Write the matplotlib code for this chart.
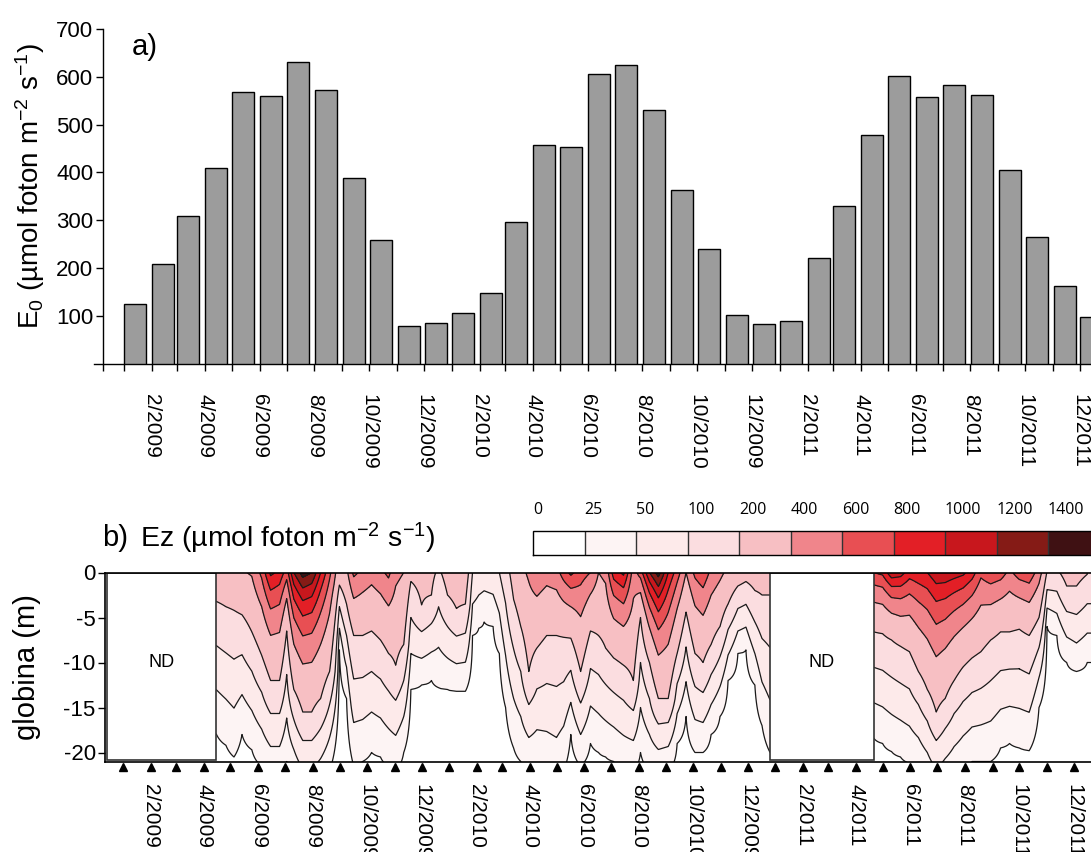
import matplotlib
matplotlib.use("Agg")
import matplotlib.pyplot as plt
import matplotlib.dates as mdates
from matplotlib.patches import Rectangle
import numpy as np
import pandas as pd

plt.rcParams.update({
    "font.family": ["Liberation Sans", "DejaVu Sans"],
    "mathtext.fontset": "custom",
    "mathtext.rm": "Liberation Sans",
    "mathtext.it": "Liberation Sans:italic",
    "mathtext.bf": "Liberation Sans:bold",
    "axes.unicode_minus": False,
})

# ── monthly surface irradiance (panel a) ─────────────────────
MONTHS = pd.date_range("2009-01-01", "2011-12-01", freq="MS")
E0_MONTHLY = [125, 208, 310, 409, 568, 560, 630, 573, 389, 259, 79, 86,
              107, 149, 296, 458, 454, 606, 624, 531, 363, 240, 102, 83,
              89, 221, 329, 479, 601, 558, 583, 562, 405, 266, 163, 98]

LABEL_MONTHS = pd.date_range("2009-02-01", "2011-12-01", freq="2MS")
DATE_LABELS = ["2/2009", "4/2009", "6/2009", "8/2009", "10/2009", "12/2009",
               "2/2010", "4/2010", "6/2010", "8/2010", "10/2010", "12/2009",
               "2/2011", "4/2011", "6/2011", "8/2011", "10/2011", "12/2011"]

# ── underwater light profiles (panel b) ──────────────────────
# per sampling date: light at the surface, depth (m) of the 200 isoline
# (nan where the surface is already below 200) and depth of the 25 isoline
DATES_1 = ["2009-04-15", "2009-04-26", "2009-05-05", "2009-05-14", "2009-05-25",
           "2009-06-05", "2009-06-15", "2009-06-25", "2009-07-03", "2009-07-11",
           "2009-07-21", "2009-07-31", "2009-08-10", "2009-08-20", "2009-08-31",
           "2009-09-08", "2009-09-16", "2009-09-26", "2009-10-06", "2009-10-16",
           "2009-10-25", "2009-11-02", "2009-11-11", "2009-11-19", "2009-12-01",
           "2009-12-12", "2009-12-20", "2009-12-30", "2010-01-09", "2010-01-19",
           "2010-01-27", "2010-02-03", "2010-02-09", "2010-02-19", "2010-02-26",
           "2010-03-05", "2010-03-14", "2010-03-22", "2010-03-31", "2010-04-09",
           "2010-04-20", "2010-05-01", "2010-05-09", "2010-05-17", "2010-05-28",
           "2010-06-08", "2010-06-17", "2010-06-25", "2010-07-04", "2010-07-15",
           "2010-07-26", "2010-08-03", "2010-08-13", "2010-08-23", "2010-09-03",
           "2010-09-13", "2010-09-23", "2010-10-03", "2010-10-12", "2010-10-21",
           "2010-10-31", "2010-11-09", "2010-11-20", "2010-11-29", "2010-12-09",
           "2010-12-17", "2010-12-26"]
SURF_1 = [300, 310, 330, 380, 420, 650, 1050, 950, 700, 1200,
          1500, 1400, 1000, 650, 250, 350, 650, 550, 480, 550,
          650, 450, 400, 220, 250, 230, 180, 250, 320, 280,
          100, 80, 75, 80, 100, 150, 250, 350, 430, 550,
          480, 520, 700, 850, 700, 600, 400, 450, 900, 1050,
          500, 700, 1200, 1500, 1000, 700, 400, 650, 750, 550,
          450, 350, 300, 250, 280, 280, 280]
Z200_1 = [3.2, 3.8, 4.2, 4.7, 6.6, 9.2, 12.0, 12.0, 6.5, 13.0,
          15.5, 15.5, 14.0, 11.0, 1.4, 3.5, 7.0, 7.0, 6.5, 7.5,
          9.0, 10.3, 8.0, 1.0, 3.6, 2.5, np.nan, 2.5, 4.0, 3.5,
          np.nan, np.nan, np.nan, np.nan, np.nan, np.nan, 3.0, 6.0, 11.0, 8.4,
          7.0, 7.0, 7.2, 7.3, 11.0, 6.5, 7.0, 8.4, 9.5, 10.3,
          12.0, 5.0, 10.0, 14.0, 14.0, 9.0, 4.4, 9.0, 10.0, 8.0,
          6.0, 3.5, 1.5, 1.0, 2.0, 2.5, 2.5]
Z25_1 = [17.9, 19.2, 20.5, 18.0, 19.7, 21.5, 23.0, 23.0, 21.0, 23.0,
         25.0, 25.0, 24.0, 22.0, 8.6, 14.0, 21.5, 21.0, 20.0, 20.5,
         21.5, 22.0, 20.0, 13.0, 12.5, 12.0, 12.8, 13.0, 13.2, 13.2,
         7.0, 6.2, 5.5, 6.0, 9.0, 15.0, 19.5, 21.0, 22.0, 22.0,
         23.0, 24.0, 22.0, 18.0, 21.5, 19.0, 20.0, 20.5, 21.0, 22.0,
         22.0, 20.0, 22.0, 22.5, 22.0, 19.0, 16.0, 20.0, 20.0, 18.0,
         16.0, 12.0, 9.0, 8.6, 12.5, 17.0, 20.0]

DATES_2 = ["2011-04-21", "2011-05-01", "2011-05-11", "2011-05-21", "2011-05-31",
           "2011-06-10", "2011-06-20", "2011-06-30", "2011-07-10", "2011-07-20",
           "2011-07-30", "2011-08-09", "2011-08-19", "2011-08-30", "2011-09-10",
           "2011-09-20", "2011-10-01", "2011-10-12", "2011-10-23", "2011-11-01",
           "2011-11-12", "2011-11-23", "2011-12-04", "2011-12-16", "2011-12-31"]
SURF_2 = [800, 850, 1150, 1100, 900, 950, 1000, 1150, 1150, 1100,
          1050, 900, 650, 750, 700, 550, 700, 750, 500, 190,
          180, 250, 250, 200, 200]
Z200_2 = [6.6, 6.8, 7.5, 8.2, 8.8, 11.0, 13.0, 15.5, 14.0, 12.0,
          10.5, 9.5, 8.8, 7.5, 6.6, 6.6, 6.3, 7.0, 5.0, np.nan,
          np.nan, 1.5, 1.5, 0.2, 0.2]
Z25_2 = [18.4, 19.0, 19.9, 20.5, 21.2, 22.0, 23.5, 25.0, 24.0, 23.0,
         22.0, 21.0, 21.0, 21.0, 19.5, 19.0, 19.5, 19.8, 15.0, 6.0,
         7.0, 10.0, 11.0, 10.0, 10.0]

ND_PERIODS = [("2008-12-14", "2009-04-15"), ("2010-12-26", "2011-04-21")]

LEVELS = [0, 25, 50, 100, 200, 400, 600, 800, 1000, 1200, 1400, 100000]
COLORS = ["#ffffff", "#fdf4f4", "#fdeaea", "#fbdde0", "#f7bfc3", "#f0858b",
          "#e84f53", "#e31f26", "#c8171d", "#851b16", "#3f1113"]

BAR_GREY = "#9c9c9c"
LINE_DARK = "#1a1a1a"
W, H = 1091, 852


def px_box(left, top, right, bottom):
    """Axes rectangle from pixel edges (origin top-left)."""
    return [left / W, 1 - bottom / H, (right - left) / W, (bottom - top) / H]


def light_field(depths, surface, z200, z25):
    """Piecewise log-linear profile through the read isoline depths."""
    cols = []
    for es, a, b in zip(surface, z200, z25):
        kd, ke = [0.0], [np.log(es)]
        if not np.isnan(a):
            kd.append(a)
            ke.append(np.log(200))
        kd += [b, 60.0]
        ke += [np.log(25), 0.0]
        cols.append(np.exp(np.interp(depths, kd, ke)))
    return np.array(cols).T


def dnum(values):
    return mdates.date2num(pd.to_datetime(values).to_pydatetime())


fig = plt.figure(figsize=(W / 100, H / 100), dpi=100)
day0 = dnum(["2009-01-01"])[0]
month_x = dnum(MONTHS)
label_x = dnum(LABEL_MONTHS)

# ── panel a: monthly bars ────────────────────────────────────
ax1 = fig.add_axes(px_box(94, 29, 1107, 363.8))
ax1.bar(month_x + 0.5, E0_MONTHLY, width=24.5, align="edge",
        color=BAR_GREY, edgecolor="black", linewidth=1.0, zorder=3)
ax1.set_xlim(day0 - 33.4, day0 + 1094)
ax1.set_ylim(0, 700)
ax1.spines["top"].set_visible(False)
ax1.spines["right"].set_visible(False)
ax1.spines["left"].set_position(("data", day0 - 23.4))
for s in ("left", "bottom"):
    ax1.spines[s].set_linewidth(1.0)
ax1.set_yticks([100, 200, 300, 400, 500, 600, 700])
ax1.tick_params(axis="y", length=5, width=1.0, labelsize=16, pad=2)
ax1.set_xticks(label_x)
ax1.set_xticklabels(DATE_LABELS, rotation=270, fontsize=15)
odd_months = [m for m in month_x if m not in set(label_x)]
ax1.set_xticks(list(odd_months) + [day0 - 23.4], minor=True)
ax1.tick_params(axis="x", which="both", length=5, width=1.0, direction="out")
ax1.tick_params(axis="x", which="major", pad=17)

fig.text(30 / W, 1 - 186 / H, r"E$_0$ (µmol foton m$^{-2}$ s$^{-1}$)",
         rotation=90, ha="center", va="center", fontsize=20)
fig.text(145 / W, 1 - 47 / H, "a)", ha="center", va="center", fontsize=21)

# ── panel b: light contours with depth ───────────────────────
ax2 = fig.add_axes(px_box(105.4, 572.5, 1106, 761.5))
depths = np.linspace(0, 22, 221)
cf = None
for dates, surf, z200, z25 in ((DATES_1, SURF_1, Z200_1, Z25_1),
                               (DATES_2, SURF_2, Z200_2, Z25_2)):
    t = dnum(dates)
    field = light_field(depths, surf, z200, z25)
    cf = ax2.contourf(t, -depths, field, levels=LEVELS, colors=COLORS, zorder=1)
    ax2.contour(t, -depths, field, levels=LEVELS[1:-1], colors=LINE_DARK,
                linewidths=0.9, zorder=2)

for start, end in ND_PERIODS:
    x0, x1 = dnum([start, end])
    ax2.add_patch(Rectangle((x0, -20.85), x1 - x0, 20.8, facecolor="white",
                            edgecolor="#333333", linewidth=1.2, zorder=3))
    ax2.text((x0 + x1) / 2, -10, "ND", ha="center", va="center",
             fontsize=13, zorder=4)

ax2.set_xlim(day0 - 19.9, day0 + 1100)
ax2.set_ylim(-21, 0)
ax2.spines["right"].set_visible(False)
for s in ("left", "top", "bottom"):
    ax2.spines[s].set_linewidth(1.2)
    ax2.spines[s].set_zorder(5)
ax2.set_yticks([0, -5, -10, -15, -20])
ax2.tick_params(axis="y", length=5, width=1.0, labelsize=16, pad=2)
ax2.set_xticks(label_x)
ax2.set_xticklabels(DATE_LABELS, rotation=270, fontsize=15)
ax2.tick_params(axis="x", length=0, pad=16)
ax2.plot(month_x, np.full(len(month_x), -0.03), linestyle="none", marker="^",
         markersize=5.5, color="black", clip_on=False,
         transform=ax2.get_xaxis_transform(), zorder=6)

fig.text(27 / W, 1 - 667 / H, "globina (m)", rotation=90,
         ha="center", va="center", fontsize=21)
fig.text(115 / W, 1 - 538 / H, "b)", ha="center", va="center", fontsize=21)
fig.text(140 / W, 1 - 538 / H, r"Ez (µmol foton m$^{-2}$ s$^{-1}$)",
         ha="left", va="center", fontsize=20.5)

# colour key
cax = fig.add_axes(px_box(533, 531, 1099.5, 555))
cb = fig.colorbar(cf, cax=cax, orientation="horizontal", drawedges=True,
                  spacing="uniform")
cb.outline.set_linewidth(1.0)
cb.dividers.set_color("#333333")
cb.dividers.set_linewidth(1.0)
cb.set_ticks(LEVELS[:-1])
cb.set_ticklabels([str(v) for v in LEVELS[:-1]])
cax.xaxis.set_ticks_position("top")
cax.tick_params(length=0, pad=9, labelsize=11.5)
for lbl in cax.get_xticklabels():
    lbl.set_ha("left")
    lbl.set_fontfamily(["Open Sans", "Liberation Sans"])

fig.savefig("out.png", dpi=100, facecolor="white")
